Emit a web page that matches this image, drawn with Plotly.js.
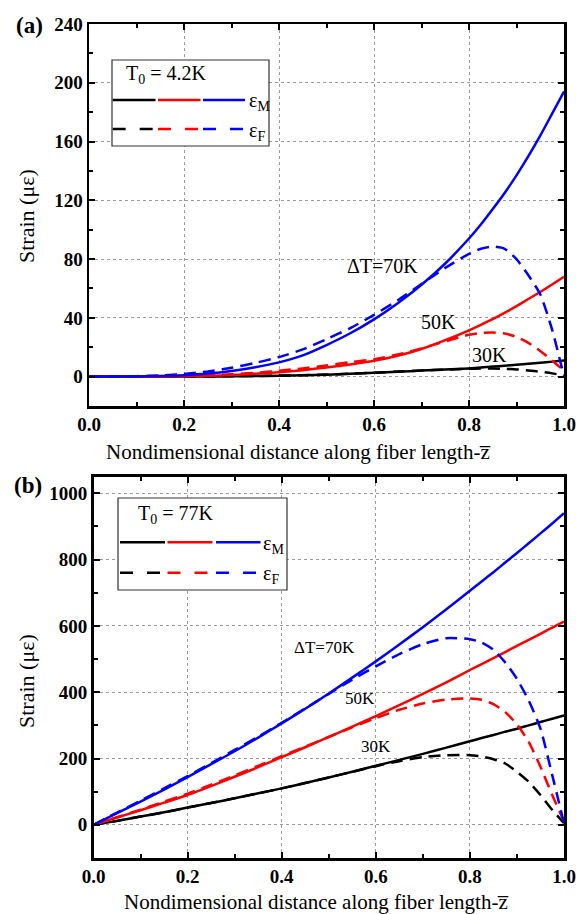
<!DOCTYPE html>
<html>
<head>
<meta charset="utf-8">
<script src="https://cdn.plot.ly/plotly-3.0.1.min.js"></script>
<style>html,body{margin:0;padding:0;background:#fff;}#chart{width:576px;height:914px;}</style>
</head>
<body>
<div id="chart"></div>
<script>
// Shared nondimensional positions along the fiber
var z = [0,0.05,0.1,0.15,0.2,0.25,0.3,0.35,0.4,0.45,0.5,0.55,0.6,0.65,0.7,0.75,0.8,0.825,0.85,0.875,0.9,0.925,0.95,0.975,1.0];

// Panel (a): T0 = 4.2K
var eM70a = [0,0,0.1,0.4,1.0,2.1,3.9,6.4,9.7,14.5,21.5,29.5,39,50,62.5,77,94,103.5,114,125,137,150,164,179,194];
var eF70a = [0,0.05,0.3,0.8,1.8,3.5,6,9.3,13.3,18.5,25.5,33,42,52,63,74,83.5,87,88.5,87,80,69,56,32,0];
var eM50a = [0,0,0,0.1,0.3,0.6,1.1,1.9,3,4.4,6.2,8.3,10.8,14.2,18.8,24.8,31.5,35.2,39.2,43.4,48,52.8,57.6,62.7,68];
var eF50a = [0,0,0.05,0.2,0.5,1,1.6,2.6,4,5.6,7.6,9.8,11.8,15,19.2,24,28.5,29.7,30,29.3,27,23,17.5,11,4];
var eM30a = [0,0,0,0,0.05,0.1,0.2,0.35,0.6,0.9,1.3,1.9,2.6,3.3,4.1,4.8,5.6,6.2,6.8,7.4,8.0,8.7,9.4,10.2,11];
var eF30a = [0,0,0,0.05,0.1,0.2,0.3,0.45,0.7,1,1.4,2,2.7,3.4,4.1,4.8,5.3,5.5,5.5,5.3,4.9,4.2,3.3,2.2,0.8];

// Panel (b): T0 = 77K
var eM70b = [0,35,70,106,144,183,222,263,306,350,396,444,493,544,596,650,706,734,762,791,820,849,879,909,940];
var eF70b = [0,37,73,110,147,186,226,266,308,351,395,438,478,515,545,563,560,550,528,490,440,375,290,150,5];
var eM50b = [0,22,44,67,90,117,145,174,204,234,265,296,328,361,395,430,467,485,503,521,540,558,576,595,613];
var eF50b = [0,23,46,70,94,121,149,178,207,236,265,294,322,347,366,378,381,377,364,340,303,250,175,90,10];
var eM30b = [0,12,25,38,52,66,80,95,110,126,143,160,178,196,214,233,252,262,271,281,290,300,310,320,330];
var eF30b = [0,12,25,38,52,66,80,95,110,126,143,160,177,192,204,210,210,206,198,185,160,130,90,45,5];

var colors = {k:'#000000', r:'#ff0000', b:'#0000ff'};
var DASH = '12px,7px';

function tr(y, color, dashed, xa, ya){
  return {x:z, y:y, xaxis:xa, yaxis:ya, type:'scatter', mode:'lines',
    line:{color:color, width:2.5, shape:'spline', smoothing:0.6, dash: dashed?DASH:'solid'},
    hoverinfo:'skip', showlegend:false};
}

var data = [
  tr(eM30a, colors.k, false,'x','y'), tr(eF30a, colors.k, true,'x','y'),
  tr(eM50a, colors.r, false,'x','y'), tr(eF50a, colors.r, true,'x','y'),
  tr(eM70a, colors.b, false,'x','y'), tr(eF70a, colors.b, true,'x','y'),
  tr(eM30b, colors.k, false,'x2','y2'), tr(eF30b, colors.k, true,'x2','y2'),
  tr(eM50b, colors.r, false,'x2','y2'), tr(eF50b, colors.r, true,'x2','y2'),
  tr(eM70b, colors.b, false,'x2','y2'), tr(eF70b, colors.b, true,'x2','y2')
];

var W = 576, H = 914;
function px(x){return x/W;}
function py(y){return 1 - y/H;}

var serif = '"Liberation Serif", "Times New Roman", Times, serif';
var tickFont = {family:serif, size:19, color:'#000', weight:'bold'};

function axisBase(extra){
  var a = {showline:true, linewidth:2.5, linecolor:'#000', mirror:'allticks',
    ticks:'inside', ticklen:6, tickwidth:2, tickcolor:'#000',
    showgrid:true, gridcolor:'#9a9a9a', griddash:'dot', gridwidth:1,
    zeroline:false, tickfont:tickFont, fixedrange:true};
  for (var k in extra) a[k] = extra[k];
  return a;
}

var layout = {
  width:W, height:H, margin:{l:0,r:0,t:0,b:0},
  font:{family:serif, color:'#000'},
  paper_bgcolor:'#fff', plot_bgcolor:'#fff', showlegend:false,
  xaxis: axisBase({domain:[px(89),px(564)], anchor:'y', range:[0,1], tick0:0, dtick:0.2, tickformat:'.1f',
    minor:{ticks:'inside', ticklen:4, tickwidth:2, tickcolor:'#000', dtick:0.1, showgrid:false}}),
  yaxis: axisBase({domain:[py(406),py(24)], anchor:'x', range:[-20,240], tick0:0, dtick:40,
    minor:{ticks:'inside', ticklen:4, tickwidth:2, tickcolor:'#000', dtick:20, tick0:0, showgrid:false}}),
  xaxis2: axisBase({domain:[px(93.5),px(564)], anchor:'y2', range:[0,1], tick0:0, dtick:0.2, tickformat:'.1f',
    minor:{ticks:'inside', ticklen:4, tickwidth:2, tickcolor:'#000', dtick:0.1, showgrid:false}}),
  yaxis2: axisBase({domain:[py(858),py(476.7)], anchor:'x2', range:[-100,1050], tick0:0, dtick:200,
    minor:{ticks:'inside', ticklen:4, tickwidth:2, tickcolor:'#000', dtick:100, tick0:0, showgrid:false}}),
  shapes:[], annotations:[]
};

var A = layout.annotations, S = layout.shapes;
function txt(t, x, y, size, opts){
  var o = {text:t, x:x, y:y, xref:'paper', yref:'paper', showarrow:false,
    font:{family:serif, size:size, color:'#000'}, xanchor:'center', yanchor:'middle'};
  for (var k in (opts||{})) o[k] = opts[k];
  return o;
}

// axis titles
A.push(txt('Strain (με)', px(26), py(216), 22, {textangle:-90}));
A.push(txt('Strain (με)', px(26), py(681), 22, {textangle:-90}));
A.push(txt('Nondimensional distance along fiber length-z\u0305', px(104), py(451.7), 21, {xanchor:'left'}));
A.push(txt('Nondimensional distance along fiber length-z\u0305', px(122), py(901.7), 21, {xanchor:'left'}));
// panel labels
A.push(txt('(a)', px(14), py(25), 23, {xanchor:'left', font:{family:serif,size:23,color:'#000',weight:'bold'}}));
A.push(txt('(b)', px(12), py(485), 23, {xanchor:'left', font:{family:serif,size:23,color:'#000',weight:'bold'}}));

// curve labels (data coordinates)
function dl(t, x, y, xr, yr, size){
  return {text:t, x:x, y:y, xref:xr, yref:yr, showarrow:false,
    font:{family:serif, size:size, color:'#000'}, xanchor:'center', yanchor:'middle'};
}
A.push(dl('ΔT=70K', 0.617, 75, 'x','y', 20));
A.push(dl('50K', 0.736, 37, 'x','y', 20));
A.push(dl('30K', 0.843, 15, 'x','y', 20));
A.push(dl('ΔT=70K', 0.492, 536, 'x2','y2', 17));
A.push(dl('50K', 0.566, 381, 'x2','y2', 17));
A.push(dl('30K', 0.600, 235, 'x2','y2', 17));

// legends (drawn manually)
function legend(box, title, titleX, titleY, ySolid, yDash, segs, labX){
  S.push({type:'rect', xref:'paper', yref:'paper', x0:px(box[0]), x1:px(box[1]), y0:py(box[3]), y1:py(box[2]),
    line:{color:'#333', width:1.2}, fillcolor:'rgba(255,255,255,1)', layer:'above'});
  A.push(txt(title, px(titleX), py(titleY), 20));
  var cs = [colors.k, colors.r, colors.b];
  for (var i=0;i<3;i++){
    S.push({type:'line', xref:'paper', yref:'paper', x0:px(segs[i][0]), x1:px(segs[i][1]), y0:py(ySolid), y1:py(ySolid),
      line:{color:cs[i], width:2.5}, layer:'above'});
    S.push({type:'line', xref:'paper', yref:'paper', x0:px(segs[i][0]), x1:px(segs[i][1]), y0:py(yDash), y1:py(yDash),
      line:{color:cs[i], width:2.5, dash:'13px,14px'}, layer:'above'});
  }
  A.push(txt('ε<sub>M</sub>', px(labX), py(ySolid+2), 20, {xanchor:'left'}));
  A.push(txt('ε<sub>F</sub>', px(labX), py(yDash+2), 20, {xanchor:'left'}));
}
legend([112,269,60,146], 'T<sub>0</sub> = 4.2K', 166, 75, 100, 129,
  [[112.7,155.5],[158,200.5],[203,245]], 247);
legend([118,287,498,590], 'T<sub>0</sub> = 77K', 175, 514, 542.3, 572.7,
  [[120,165],[167.5,212.5],[216,260.5]], 261);

Plotly.newPlot('chart', data, layout, {displayModeBar:false, staticPlot:true});
</script>
</body>
</html>
